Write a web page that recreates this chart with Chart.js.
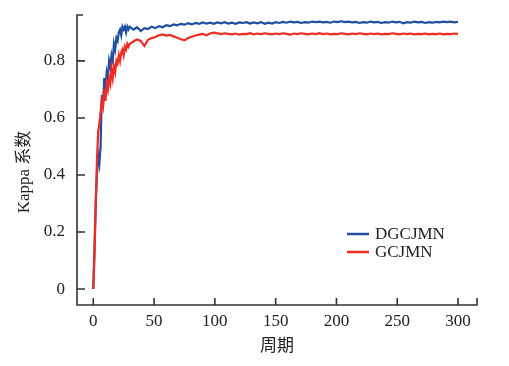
<!DOCTYPE html>
<html>
<head>
<meta charset="utf-8">
<script src="https://cdn.jsdelivr.net/npm/chart.js@4.4.1/dist/chart.umd.min.js"></script>
<style>
  html, body { margin: 0; padding: 0; background: #fff; }
</style>
</head>
<body>
<canvas id="kappaChart" width="509" height="366"></canvas>
<script>
const epochs = [
  0, 1, 2, 3, 4, 5, 6, 7, 8, 9, 10, 11, 12, 13, 14, 15, 16, 17, 18, 19, 20,
  21, 22, 23, 24, 25, 26, 27, 28, 29, 30,
  33, 36, 39, 42, 45, 48, 51, 54, 57, 60, 63, 66, 69, 72, 75, 78, 81, 84, 87, 90,
  93, 96, 99, 102, 105, 108, 111, 114, 117, 120, 123, 126, 129, 132, 135, 138, 141, 144, 147, 150,
  153, 156, 159, 162, 165, 168, 171, 174, 177, 180, 183, 186, 189, 192, 195, 198, 201, 204, 207, 210,
  213, 216, 219, 222, 225, 228, 231, 234, 237, 240, 243, 246, 249, 252, 255, 258, 261, 264, 267, 270,
  273, 276, 279, 282, 285, 288, 291, 294, 297, 300
];

const dgcjmn = [
  0.00, 0.15, 0.30, 0.40, 0.47, 0.44, 0.50, 0.68, 0.64, 0.74, 0.70, 0.76, 0.74, 0.80, 0.78, 0.82,
  0.80, 0.86, 0.84, 0.88, 0.87, 0.90, 0.91, 0.89, 0.92, 0.91, 0.92, 0.90, 0.92, 0.91, 0.92,
  0.910, 0.918, 0.905, 0.915, 0.912, 0.920, 0.915, 0.922, 0.918, 0.925, 0.922, 0.928, 0.925, 0.930, 0.927,
  0.932, 0.928, 0.933, 0.930, 0.935, 0.931, 0.934, 0.930, 0.935, 0.932, 0.936, 0.931, 0.934, 0.930, 0.935,
  0.933, 0.936, 0.931, 0.935, 0.932, 0.936, 0.930, 0.934, 0.931, 0.936, 0.933, 0.937, 0.934, 0.938, 0.935,
  0.937, 0.933, 0.936, 0.934, 0.938, 0.936, 0.938, 0.935, 0.937, 0.934, 0.938, 0.936, 0.939, 0.936, 0.938,
  0.935, 0.937, 0.933, 0.936, 0.934, 0.938, 0.935, 0.937, 0.933, 0.936, 0.934, 0.938, 0.935, 0.937, 0.932,
  0.936, 0.934, 0.938, 0.935, 0.937, 0.933, 0.936, 0.934, 0.937, 0.935, 0.938, 0.936, 0.938, 0.935, 0.937
];

const gcjmn = [
  0.00, 0.12, 0.30, 0.45, 0.55, 0.58, 0.62, 0.66, 0.64, 0.70, 0.66, 0.72, 0.70, 0.74, 0.72, 0.77,
  0.74, 0.78, 0.76, 0.80, 0.79, 0.82, 0.80, 0.83, 0.84, 0.82, 0.85, 0.84, 0.86, 0.85, 0.86,
  0.868, 0.875, 0.870, 0.852, 0.874, 0.880, 0.884, 0.890, 0.893, 0.889, 0.891, 0.886, 0.881, 0.876, 0.872,
  0.880, 0.885, 0.889, 0.892, 0.895, 0.890, 0.896, 0.899, 0.897, 0.894, 0.897, 0.895, 0.893, 0.896, 0.892,
  0.895, 0.894, 0.897, 0.893, 0.896, 0.894, 0.897, 0.895, 0.893, 0.896, 0.894, 0.897, 0.895, 0.892, 0.896,
  0.894, 0.897, 0.895, 0.893, 0.896, 0.894, 0.897, 0.894, 0.896, 0.893, 0.895, 0.894, 0.897, 0.895, 0.893,
  0.896, 0.894, 0.897, 0.895, 0.893, 0.896, 0.894, 0.896, 0.893, 0.895, 0.894, 0.897, 0.895, 0.893, 0.896,
  0.894, 0.896, 0.893, 0.895, 0.894, 0.896, 0.893, 0.895, 0.894, 0.896, 0.893, 0.895, 0.894, 0.896, 0.895
];

const xTicks = [0, 50, 100, 150, 200, 250, 300];
const yTicks = [0, 0.2, 0.4, 0.6, 0.8];

const serif = "'Liberation Serif', 'Noto Sans CJK SC', serif";
const axisColor = "#333";
const textColor = "#222";

function points(ys) {
  return epochs.map((x, i) => ({ x: x, y: ys[i] }));
}

// axes drawn by hand: left + bottom lines, short ticks pointing inward
const axesPlugin = {
  id: "axesPlugin",
  beforeDatasetsDraw(chart) {
    const ctx = chart.ctx;
    const a = chart.chartArea;
    const sx = chart.scales.x;
    const sy = chart.scales.y;
    ctx.save();
    ctx.strokeStyle = axisColor;
    ctx.lineWidth = 1.6;
    ctx.beginPath();
    ctx.moveTo(a.left + 6, a.top);
    ctx.lineTo(a.left, a.top);
    ctx.lineTo(a.left, a.bottom);
    ctx.lineTo(a.right, a.bottom);
    ctx.lineTo(a.right, a.bottom - 7);
    xTicks.forEach(v => {
      const px = sx.getPixelForValue(v);
      ctx.moveTo(px, a.bottom);
      ctx.lineTo(px, a.bottom - 7);
    });
    yTicks.forEach(v => {
      const py = sy.getPixelForValue(v);
      ctx.moveTo(a.left, py);
      ctx.lineTo(a.left + 8, py);
    });
    ctx.stroke();

    // y title
    ctx.fillStyle = textColor;
    ctx.font = "17px " + serif;
    ctx.textAlign = "center";
    ctx.textBaseline = "middle";
    ctx.translate(25, a.top + (a.bottom - a.top) / 2 + 12);
    ctx.rotate(-Math.PI / 2);
    ctx.fillText("Kappa 系数", 0, 0);
    ctx.restore();
  },
  afterDraw(chart) {
    const ctx = chart.ctx;
    const a = chart.chartArea;
    const x0 = a.left + 270;
    let y0 = a.top + 219;
    ctx.save();
    ctx.font = "17px " + serif;
    ctx.textBaseline = "middle";
    ctx.textAlign = "left";
    [0, 1].forEach(i => {
      const ds = chart.data.datasets[i];
      ctx.strokeStyle = ds.borderColor;
      ctx.lineWidth = 2.5;
      ctx.beginPath();
      ctx.moveTo(x0, y0);
      ctx.lineTo(x0 + 22, y0);
      ctx.stroke();
      ctx.fillStyle = textColor;
      ctx.fillText(ds.label, x0 + 28, y0 + 1);
      y0 += 18;
    });
    ctx.restore();
  }
};

new Chart(document.getElementById("kappaChart"), {
  type: "line",
  data: {
    datasets: [
      {
        label: "DGCJMN",
        data: points(dgcjmn),
        borderColor: "#1f4f9f",
        borderWidth: 2.2,
        pointRadius: 0,
        tension: 0,
        order: 1
      },
      {
        label: "GCJMN",
        data: points(gcjmn),
        borderColor: "#ef2b22",
        borderWidth: 2.2,
        pointRadius: 0,
        tension: 0,
        order: 0
      }
    ]
  },
  options: {
    responsive: false,
    animation: false,
    layout: { padding: { top: 15, right: 32, left: 0, bottom: 0 } },
    plugins: { legend: { display: false }, tooltip: { enabled: false } },
    scales: {
      x: {
        type: "linear",
        min: -13.4,
        max: 315.6,
        grid: { display: false, drawTicks: false },
        border: { display: false },
        afterBuildTicks: s => { s.ticks = xTicks.map(v => ({ value: v })); },
        afterFit: s => { s.height = 61; s.paddingLeft = 0; s.paddingRight = 0; },
        ticks: {
          padding: 6,
          maxRotation: 0,
          autoSkip: false,
          color: textColor,
          font: { family: serif, size: 17 }
        },
        title: {
          display: true,
          text: "周期",
          color: textColor,
          padding: { top: 0, bottom: 9 },
          font: { family: serif, size: 17 }
        }
      },
      y: {
        min: -0.056,
        max: 0.961,
        grid: { display: false, drawTicks: false },
        border: { display: false },
        afterBuildTicks: s => { s.ticks = yTicks.map(v => ({ value: v })); },
        afterFit: s => { s.width = 77; s.paddingTop = 0; s.paddingBottom = 0; },
        ticks: {
          padding: 12,
          color: textColor,
          font: { family: serif, size: 17 },
          callback: v => String(+v.toFixed(1))
        }
      }
    }
  },
  plugins: [axesPlugin]
});
</script>
</body>
</html>
